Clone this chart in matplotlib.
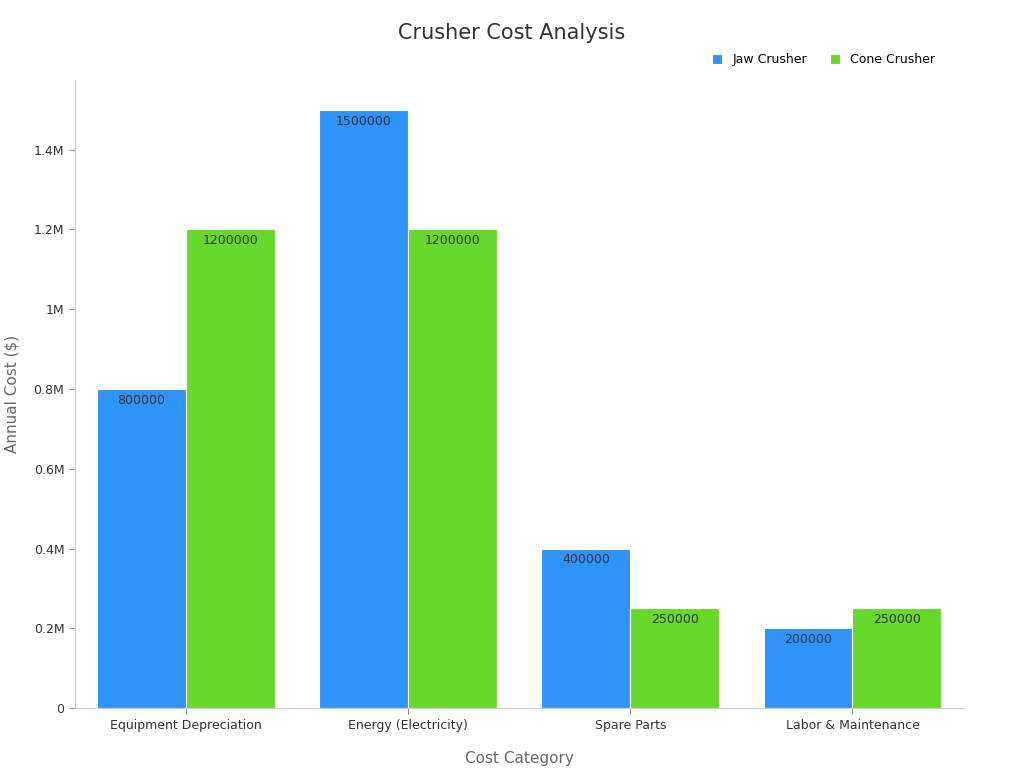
import numpy as np
import matplotlib.pyplot as plt
from matplotlib.ticker import FuncFormatter

categories = ["Equipment Depreciation", "Energy (Electricity)", "Spare Parts", "Labor & Maintenance"]
jaw = [800000, 1500000, 400000, 200000]
cone = [1200000, 1200000, 250000, 250000]

fig = plt.figure(figsize=(10.24, 7.68), dpi=100)
ax = fig.add_axes([0.073, 0.078, 0.868, 0.818])

x = np.arange(len(categories))
w = 0.4
b1 = ax.bar(x - w/2, jaw, w, color="#2f93fa", edgecolor="white", linewidth=0.8, label="Jaw Crusher")
b2 = ax.bar(x + w/2, cone, w, color="#66d92a", edgecolor="white", linewidth=0.8, label="Cone Crusher")
for bars in (b1, b2):
    for r in bars:
        ax.text(r.get_x() + r.get_width()/2, r.get_height() - 12000, f"{int(r.get_height())}",
                ha="center", va="top", fontsize=9, color="#333333")

def fmt(v, p):
    if v == 0:
        return "0"
    m = v / 1e6
    return f"{m:g}M"
ax.yaxis.set_major_formatter(FuncFormatter(fmt))
ax.set_yticks(np.arange(0, 1.41e6, 2e5))
ax.set_ylim(0, 1.575e6)
ax.set_xlim(-0.5, 3.5)
ax.set_xticks(x)
ax.set_xticklabels(categories, fontsize=9)
ax.tick_params(axis="y", labelsize=9)
ax.tick_params(colors="#333333", length=4, color="#999999")
for s in ["top", "right"]:
    ax.spines[s].set_visible(False)
for s in ["left", "bottom"]:
    ax.spines[s].set_color("#cccccc")
ax.set_xlabel("Cost Category", fontsize=11, color="#666666", labelpad=14)
ax.set_ylabel("Annual Cost ($)", fontsize=11, color="#666666", labelpad=10)
fig.suptitle("Crusher Cost Analysis", fontsize=15, color="#333333", y=0.97)
ax.legend(loc="upper right", bbox_to_anchor=(0.98, 1.06), ncol=2, frameon=False, fontsize=9,
          handlelength=0.8, handleheight=0.8, columnspacing=1.8)
fig.savefig("out.png")
